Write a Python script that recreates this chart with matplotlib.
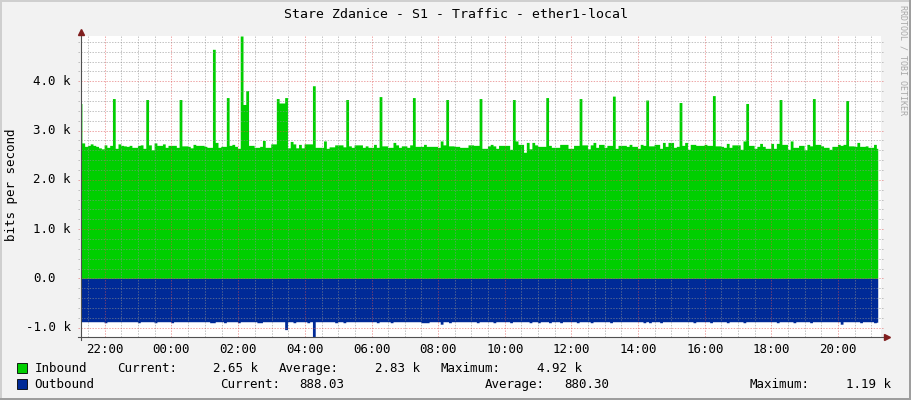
import matplotlib
matplotlib.use("Agg")
import matplotlib.pyplot as plt
from matplotlib.patches import Rectangle
import numpy as np

# --- data (values in k bits per second, one sample every 5 minutes) ---
title = "Stare Zdanice - S1 - Traffic - ether1-local"
start_hour = 21.27
step_min = 5

inbound_k = [
    3.55, 2.75, 2.68, 2.70, 2.73, 2.70, 2.68, 2.65, 2.63, 2.71, 2.66, 2.70,
    3.65, 2.64, 2.73, 2.70, 2.69, 2.68, 2.70, 2.66, 2.66, 2.70, 2.71, 2.64,
    3.63, 2.71, 2.61, 2.75, 2.70, 2.70, 2.73, 2.66, 2.70, 2.70, 2.70, 2.66,
    3.63, 2.69, 2.69, 2.68, 2.65, 2.72, 2.70, 2.70, 2.70, 2.68, 2.66, 2.66,
    4.65, 2.76, 2.66, 2.68, 2.68, 3.67, 2.70, 2.72, 2.68, 2.64, 4.92, 3.53,
    3.81, 2.70, 2.70, 2.66, 2.66, 2.68, 2.80, 2.66, 2.66, 2.73, 2.73, 3.65,
    3.56, 3.56, 3.67, 2.65, 2.78, 2.73, 2.65, 2.72, 2.65, 2.73, 2.73, 2.73,
    3.91, 2.66, 2.66, 2.66, 2.79, 2.64, 2.67, 2.67, 2.71, 2.71, 2.71, 2.67,
    3.63, 2.69, 2.66, 2.71, 2.71, 2.71, 2.66, 2.69, 2.66, 2.66, 2.72, 2.66,
    3.69, 2.69, 2.69, 2.66, 2.66, 2.76, 2.71, 2.66, 2.69, 2.69, 2.66, 2.71,
    3.67, 2.68, 2.68, 2.68, 2.72, 2.68, 2.68, 2.68, 2.68, 2.66, 2.79, 2.71,
    3.63, 2.69, 2.69, 2.68, 2.68, 2.66, 2.66, 2.66, 2.71, 2.71, 2.70, 2.70,
    3.65, 2.64, 2.64, 2.69, 2.72, 2.69, 2.64, 2.70, 2.70, 2.70, 2.70, 2.62,
    3.63, 2.79, 2.72, 2.72, 2.56, 2.76, 2.63, 2.76, 2.71, 2.68, 2.68, 2.68,
    3.67, 2.70, 2.66, 2.66, 2.66, 2.72, 2.72, 2.72, 2.64, 2.64, 2.70, 2.70,
    3.65, 2.71, 2.71, 2.63, 2.71, 2.76, 2.66, 2.72, 2.72, 2.66, 2.70, 2.70,
    3.70, 2.64, 2.70, 2.70, 2.70, 2.68, 2.72, 2.68, 2.68, 2.64, 2.72, 2.70,
    3.62, 2.69, 2.69, 2.72, 2.72, 2.64, 2.76, 2.68, 2.76, 2.76, 2.66, 2.68,
    3.57, 2.70, 2.76, 2.62, 2.72, 2.72, 2.70, 2.70, 2.70, 2.72, 2.70, 2.70,
    3.71, 2.69, 2.69, 2.68, 2.66, 2.74, 2.66, 2.71, 2.71, 2.71, 2.62, 2.79,
    3.55, 2.70, 2.70, 2.64, 2.68, 2.74, 2.68, 2.64, 2.64, 2.74, 2.64, 2.74,
    3.63, 2.72, 2.72, 2.62, 2.79, 2.66, 2.66, 2.70, 2.70, 2.61, 2.72, 2.69,
    3.65, 2.72, 2.72, 2.69, 2.66, 2.66, 2.62, 2.68, 2.68, 2.72, 2.70, 2.72,
    3.61, 2.69, 2.69, 2.68, 2.76, 2.68, 2.68, 2.69, 2.66, 2.66, 2.72, 2.64,
]

outbound_k = [
    -0.88, -0.88, -0.88, -0.88, -0.88, -0.88, -0.88, -0.88, -0.88, -0.90, -0.88, -0.88,
    -0.88, -0.88, -0.88, -0.88, -0.88, -0.88, -0.88, -0.88, -0.88, -0.90, -0.88, -0.88,
    -0.88, -0.88, -0.88, -0.90, -0.88, -0.88, -0.88, -0.88, -0.88, -0.90, -0.88, -0.88,
    -0.88, -0.88, -0.88, -0.88, -0.88, -0.88, -0.88, -0.88, -0.88, -0.88, -0.88, -0.90,
    -0.90, -0.88, -0.88, -0.88, -0.90, -0.88, -0.88, -0.88, -0.88, -0.90, -0.88, -0.88,
    -0.88, -0.88, -0.88, -0.88, -0.90, -0.90, -0.88, -0.88, -0.88, -0.88, -0.88, -0.88,
    -0.88, -0.88, -1.04, -0.88, -0.88, -0.90, -0.88, -0.88, -0.88, -0.88, -0.90, -0.88,
    -1.19, -0.88, -0.88, -0.88, -0.88, -0.88, -0.88, -0.88, -0.90, -0.88, -0.88, -0.90,
    -0.88, -0.88, -0.88, -0.88, -0.88, -0.88, -0.88, -0.88, -0.88, -0.88, -0.88, -0.90,
    -0.88, -0.88, -0.88, -0.88, -0.90, -0.88, -0.88, -0.88, -0.88, -0.88, -0.88, -0.88,
    -0.88, -0.88, -0.88, -0.90, -0.90, -0.90, -0.88, -0.88, -0.88, -0.88, -0.93, -0.88,
    -0.88, -0.90, -0.88, -0.88, -0.88, -0.88, -0.88, -0.88, -0.88, -0.88, -0.88, -0.90,
    -0.88, -0.88, -0.88, -0.88, -0.88, -0.90, -0.88, -0.88, -0.88, -0.88, -0.88, -0.90,
    -0.88, -0.88, -0.88, -0.88, -0.88, -0.88, -0.90, -0.88, -0.88, -0.90, -0.88, -0.88,
    -0.88, -0.90, -0.88, -0.88, -0.88, -0.90, -0.88, -0.88, -0.88, -0.88, -0.88, -0.90,
    -0.88, -0.88, -0.88, -0.88, -0.90, -0.88, -0.88, -0.88, -0.88, -0.88, -0.88, -0.90,
    -0.88, -0.88, -0.88, -0.88, -0.88, -0.88, -0.88, -0.88, -0.88, -0.88, -0.88, -0.90,
    -0.88, -0.90, -0.88, -0.88, -0.88, -0.90, -0.88, -0.88, -0.88, -0.88, -0.88, -0.88,
    -0.88, -0.88, -0.88, -0.88, -0.88, -0.90, -0.88, -0.88, -0.88, -0.88, -0.88, -0.90,
    -0.88, -0.88, -0.88, -0.88, -0.88, -0.90, -0.88, -0.88, -0.88, -0.88, -0.88, -0.90,
    -0.88, -0.88, -0.88, -0.88, -0.88, -0.88, -0.88, -0.88, -0.88, -0.88, -0.88, -0.90,
    -0.88, -0.88, -0.88, -0.88, -0.88, -0.90, -0.88, -0.88, -0.88, -0.88, -0.88, -0.90,
    -0.88, -0.88, -0.88, -0.88, -0.88, -0.88, -0.88, -0.88, -0.88, -0.88, -0.93, -0.88,
    -0.88, -0.88, -0.88, -0.88, -0.88, -0.90, -0.88, -0.88, -0.88, -0.88, -0.90, -0.89,
]

series_names = ["Inbound", "Outbound"]
series_colors = ["#00cf00", "#002a97"]
inbound_stats = ["2.65 k", "2.83 k", "4.92 k"]
outbound_stats = ["888.03", "880.30", "1.19 k"]
y_major_k = [-1, 0, 1, 2, 3, 4]
y_labels = ["-1.0 k", "0.0", "1.0 k", "2.0 k", "3.0 k", "4.0 k"]

# --- figure in pixel terms ---
W, H = 911, 400
plt.rcParams['font.family'] = ['DejaVu Sans Mono']
fig = plt.figure(figsize=(W / 100, H / 100), dpi=100, facecolor="#f2f2f2")


def fx(px):
    return px / W


def fy(py):
    return 1 - py / H


top_px, bot_px, left_px, right_px = 36, 337, 80.5, 880.5
ax = fig.add_axes([fx(left_px), fy(bot_px), (right_px - left_px) / W, (bot_px - top_px) / H])
ax.set_facecolor("white")
for s in ax.spines.values():
    s.set_visible(False)

t = start_hour + np.arange(len(inbound_k)) * step_min / 60
inb = np.array(inbound_k) * 1000
outb = np.array(outbound_k) * 1000
ax.fill_between(t, 0, inb, step='mid', color=series_colors[0], lw=0, zorder=1)
ax.fill_between(t, 0, outb, step='mid', color=series_colors[1], lw=0, zorder=1)
ax.set_xlim(start_hour, start_hour + 24)
ax.set_ylim(outb.min(), inb.max())

# grid (drawn on top of the areas, like rrdtool)
minor_c = (0.56, 0.56, 0.56, 0.55)
major_c = (0.87, 0.31, 0.31, 0.5)
dots = (0, (1.4, 1.4))
x_major = np.arange(22, start_hour + 24, 2)
x_minor = [h for h in np.arange(21.5, start_hour + 24, 0.5) if h % 2 != 0]
for h in x_minor:
    ax.axvline(h, color=minor_c, lw=0.72, ls=dots, zorder=3)
for h in x_major:
    ax.axvline(h, color=major_c, lw=0.72, ls=dots, zorder=3)
yaxis_tr = ax.get_yaxis_transform()
for v in np.arange(-1.0, 5.0, 0.2):
    if abs(v - round(v)) < 1e-6:
        continue
    ax.plot([-3 / 800, 1 + 2 / 800], [v * 1000, v * 1000], transform=yaxis_tr,
            color=minor_c, lw=0.72, ls=dots, zorder=3, clip_on=False)
for v in y_major_k:
    ax.plot([-3 / 800, 1 + 2 / 800], [v * 1000, v * 1000], transform=yaxis_tr,
            color=major_c, lw=0.72, ls=dots, zorder=3, clip_on=False)

# axes with arrows
ax.plot([0, 0], [-3 / 301, 1 + 3 / 301], transform=ax.transAxes, color="#505050",
        lw=0.8, clip_on=False, zorder=4)
ax.plot([-3 / 800, 1 + 5 / 800], [0, 0], transform=ax.transAxes, color="#505050",
        lw=0.8, clip_on=False, zorder=4)
ax.plot([0], [1 + 4 / 301], marker='^', ms=4.5, color="#801e1e", transform=ax.transAxes,
        clip_on=False, zorder=5)
ax.plot([1 + 6 / 800], [0], marker='>', ms=4.5, color="#801e1e", transform=ax.transAxes,
        clip_on=False, zorder=5)

# tick labels
ax.set_xticks(x_major, labels=["%02d:00" % (int(h) % 24) for h in x_major])
ax.tick_params(axis='x', length=0, pad=4, labelsize=9)
ax.set_yticks([])
for v, lab in zip(y_major_k, y_labels):
    right = 70.7 if lab.endswith("k") else 56
    ax.text((right - left_px) / 800, v * 1000, lab, transform=yaxis_tr,
            ha='right', va='center', fontsize=9)

# titles
fig.text(0.5, fy(14.3), title, ha='center', va='center', fontsize=9.5)
fig.text(fx(12), fy(185), "bits per second", rotation=90, ha='center', va='center', fontsize=9)
fig.text(fx(902.5), fy(5), "RRDTOOL / TOBI OETIKER", rotation=270, ha='center', va='top',
         fontsize=6, color="#a8a8a8")

# legend
rows = [
    (368.3, series_names[0], series_colors[0], inbound_stats,
     [117, 212.7, 279, 375, 440.7, 536.7]),
    (384.3, series_names[1], series_colors[1], outbound_stats,
     [220, 299.3, 485, 564, 750, 845.7]),
]
for ypx, name, col, stats, xs in rows:
    fig.add_artist(Rectangle((fx(17.3), fy(ypx + 5)), 10 / W, 10 / H, transform=fig.transFigure,
                             fc=col, ec="black", lw=0.6))
    fig.text(fx(34.5), fy(ypx), name, ha='left', va='center', fontsize=9)
    parts = ["Current:", stats[0], "Average:", stats[1], "Maximum:", stats[2]]
    for x, p in zip(xs, parts):
        fig.text(fx(x), fy(ypx), p, ha='left', va='center', fontsize=9)

# frame shading
fig.add_artist(Rectangle((0, 1 - 2 / H), 1, 2 / H, transform=fig.transFigure, fc="#cfcfcf", lw=0))
fig.add_artist(Rectangle((0, 0), 2 / W, 1, transform=fig.transFigure, fc="#cfcfcf", lw=0))
fig.add_artist(Rectangle((0, 0), 1, 2 / H, transform=fig.transFigure, fc="#9e9e9e", lw=0))
fig.add_artist(Rectangle((1 - 2 / W, 0), 2 / W, 1, transform=fig.transFigure, fc="#9e9e9e", lw=0))

fig.savefig("out.png", dpi=100, facecolor=fig.get_facecolor())
